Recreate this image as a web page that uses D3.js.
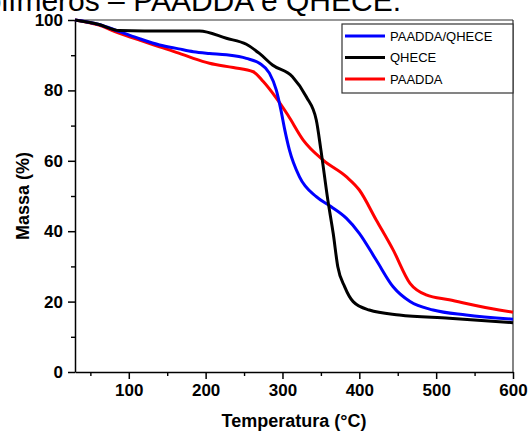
<!DOCTYPE html>
<html>
<head>
<meta charset="utf-8">
<script src="https://cdn.jsdelivr.net/npm/d3@7"></script>
<style>
  body { margin: 0; background: #fff; }
  svg { display: block; font-family: "Liberation Sans", Arial, sans-serif; }
</style>
</head>
<body>
<svg id="chart" width="530" height="437"></svg>
<script>
// TGA curves (temperature in °C, mass in %)
const tempBlend = [30, 60, 88, 115, 140, 165, 184, 205, 227, 253, 270, 283, 292, 298, 303, 309, 322, 344, 363, 383, 400, 422, 444, 466, 496, 539, 600]
const massBlend = [100, 98.8, 96.7, 94.6, 92.9, 91.8, 91.0, 90.5, 90.1, 89.1, 87.7, 84.9, 80.1, 74.4, 68.8, 63.1, 55.5, 49.8, 47.0, 43.7, 39.4, 31.8, 24.2, 20.0, 17.6, 16.2, 15.0]

const tempQhece = [30, 60, 88, 120, 160, 192, 227, 253, 270, 287, 313, 331, 344, 350, 359, 366, 372, 381, 392, 413, 452, 517, 600]
const massQhece = [100, 98.8, 97.0, 96.9, 96.9, 96.9, 94.8, 93.1, 90.5, 87.2, 83.9, 78.2, 71.6, 63.1, 48.9, 39.4, 29.9, 24.2, 20.0, 17.6, 16.2, 15.3, 14.0]

const tempPaadda = [30, 60, 88, 115, 140, 165, 184, 205, 236, 262, 275, 292, 307, 327, 353, 383, 400, 422, 444, 466, 487, 517, 582, 600]
const massPaadda = [100, 98.6, 96.2, 94.2, 92.4, 90.6, 89.1, 87.7, 86.5, 85.3, 82.5, 77.8, 73.0, 65.9, 60.2, 55.5, 51.7, 43.2, 34.7, 25.2, 21.9, 20.5, 17.6, 17.0]

const seriesNames = ["PAADDA/QHECE", "QHECE", "PAADDA"]
const seriesColors = ["#0000ff", "#000000", "#ff0000"]

const xTicks = [100, 200, 300, 400, 500, 600]
const yTicks = [0, 20, 40, 60, 80, 100]

const series = [
    {name: seriesNames[0], color: seriesColors[0], values: tempBlend.map((t, i) => [t, massBlend[i]])},
    {name: seriesNames[1], color: seriesColors[1], values: tempQhece.map((t, i) => [t, massQhece[i]])},
    {name: seriesNames[2], color: seriesColors[2], values: tempPaadda.map((t, i) => [t, massPaadda[i]])},
]

const svg = d3.select("#chart")
const plotLeft = 75, plotRight = 513, plotTop = 20, plotBottom = 372

const x = d3.scaleLinear().domain([30, 600]).range([plotLeft, plotRight])
const y = d3.scaleLinear().domain([0, 100]).range([plotBottom, plotTop])

// caption above the plot, cut off by the top edge like in the source
svg.append("text")
    .attr("x", 401).attr("y", 11)
    .attr("text-anchor", "end")
    .attr("font-size", 30)
    .text("Curvas de TGA dos polímeros – PAADDA e QHECE.")

// frame (top and right)
svg.append("line").attr("x1", x(30)).attr("x2", x(600)).attr("y1", y(100)).attr("y2", y(100))
    .attr("stroke", "#333").attr("stroke-width", 1.2)
svg.append("line").attr("x1", x(600)).attr("x2", x(600)).attr("y1", y(100)).attr("y2", y(0))
    .attr("stroke", "#333").attr("stroke-width", 1.2)

// minor ticks
const xMinor = d3.range(50, 600, 100)
const yMinor = d3.range(10, 100, 20)
svg.append("g").attr("transform", `translate(0,${plotBottom})`)
    .call(d3.axisBottom(x).tickValues(xMinor).tickSize(4).tickFormat(""))
    .call(g => g.select(".domain").remove())
    .selectAll("line").attr("stroke-width", 1.4)
svg.append("g").attr("transform", `translate(${plotLeft},0)`)
    .call(d3.axisLeft(y).tickValues(yMinor).tickSize(4).tickFormat(""))
    .call(g => g.select(".domain").remove())
    .selectAll("line").attr("stroke-width", 1.4)

// main axes
const xAxis = svg.append("g").attr("transform", `translate(0,${plotBottom})`)
    .call(d3.axisBottom(x).tickValues(xTicks).tickSize(7).tickSizeOuter(0).tickPadding(5))
const yAxis = svg.append("g").attr("transform", `translate(${plotLeft},0)`)
    .call(d3.axisLeft(y).tickValues(yTicks).tickSize(7).tickSizeOuter(0).tickPadding(5))

for (const ax of [xAxis, yAxis]) {
    ax.selectAll("line").attr("stroke-width", 1.5)
    ax.select(".domain").attr("stroke-width", 1.5)
    ax.selectAll("text")
        .attr("font-family", "Liberation Sans, Arial, sans-serif")
        .attr("font-size", 17).attr("font-weight", "bold").attr("fill", "#000")
}

// curves
const line = d3.line()
    .x(d => x(d[0]))
    .y(d => y(d[1]))
    .curve(d3.curveMonotoneX)

svg.append("g").selectAll("path")
    .data([series[2], series[0], series[1]])
    .enter()
    .append("path")
        .attr("d", d => line(d.values))
        .attr("fill", "none")
        .attr("stroke", d => d.color)
        .attr("stroke-width", 3)

// legend
const legend = svg.append("g")
legend.append("rect")
    .attr("x", 342).attr("y", 24).attr("width", 171).attr("height", 69)
    .attr("fill", "#fff").attr("stroke", "#333").attr("stroke-width", 1.2)
legend.selectAll("g")
    .data(series)
    .enter()
    .append("g")
        .attr("transform", (d, i) => `translate(345,${36 + i * 21.5})`)
    .each(function(d) {
        const g = d3.select(this)
        g.append("line").attr("x1", 0).attr("x2", 40).attr("stroke", d.color).attr("stroke-width", 3)
        g.append("text").attr("x", 45).attr("dy", "0.35em").attr("font-size", 13).text(d.name)
    })

// axis titles
svg.append("text")
    .attr("x", 294).attr("y", 427)
    .attr("text-anchor", "middle")
    .attr("font-size", 18).attr("font-weight", "bold")
    .text("Temperatura (°C)")
svg.append("text")
    .attr("transform", "translate(29,196) rotate(-90)")
    .attr("text-anchor", "middle")
    .attr("font-size", 18).attr("font-weight", "bold")
    .text("Massa (%)")
</script>
</body>
</html>
